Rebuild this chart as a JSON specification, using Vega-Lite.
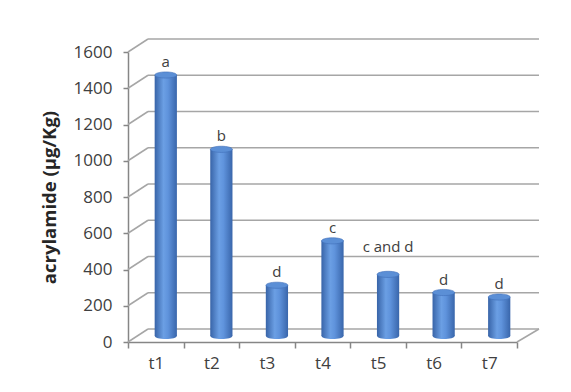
{
  "$schema": "https://vega.github.io/schema/vega-lite/v6.json",
  "autosize": "none",
  "padding": {"left": 128, "top": 52, "right": 54, "bottom": 50},
  "width": 389,
  "height": 290,
  "background": "white",
  "config": {
    "view": {"stroke": null},
    "font": "Open Sans",
    "axis": {"labelFont": "Open Sans", "titleFont": "Open Sans", "labelOverlap": false},
    "axisY": {
      "labelOverlap": false, "tickCount": 9, "labelSeparation": 0,
      "titleFontSize": 18.5, "titleFontWeight": "bold", "titleColor": "#262626", "titlePadding": 14,
      "labelFontSize": 17, "labelColor": "#404040", "labelPadding": 11, "tickSize": 5,
      "tickColor": "#868686", "domainColor": "#868686", "domainWidth": 1.5, "tickWidth": 1.5, "grid": false
    }
  },
  "datasets": {
    "bars": [
      {"t": "t1", "acrylamide": 1440, "group": "a"},
      {"t": "t2", "acrylamide": 1030, "group": "b"},
      {"t": "t3", "acrylamide": 280, "group": "d"},
      {"t": "t4", "acrylamide": 525, "group": "c"},
      {"t": "t5", "acrylamide": 340, "group": "c and d"},
      {"t": "t6", "acrylamide": 240, "group": "d"},
      {"t": "t7", "acrylamide": 215, "group": "d"}
    ],
    "grid": [
      {"acrylamide": 0}, {"acrylamide": 200}, {"acrylamide": 400}, {"acrylamide": 600}, {"acrylamide": 800},
      {"acrylamide": 1000}, {"acrylamide": 1200}, {"acrylamide": 1400}, {"acrylamide": 1600}
    ]
  },
  "layer": [
    {
      "data": {"name": "grid"},
      "mark": {"type": "rule", "color": "#a6a6a6", "strokeWidth": 1.5, "xOffset": 20, "x2Offset": 22, "yOffset": -13, "clip": false},
      "encoding": {
        "x": {"datum": "t1", "bandPosition": 0, "type": "nominal",
          "scale": {"paddingInner": 0, "paddingOuter": 0, "domain": ["t1", "t2", "t3", "t4", "t5", "t6", "t7"]},
          "axis": {
            "title": null, "labelAngle": 0, "labelFontSize": 17, "labelColor": "#404040",
            "labelPadding": 7, "tickBand": "extent", "tickSize": 6, "tickColor": "#868686",
            "domainColor": "#868686", "domainWidth": 1.5, "tickWidth": 1.5
          }
        },
        "x2": {"datum": "t7", "bandPosition": 1},
        "y": {
          "field": "acrylamide", "type": "quantitative",
          "scale": {"domain": [0, 1600]},
          "axis": {
            "title": "acrylamide (µg/Kg)", "values": [0, 200, 400, 600, 800, 1000, 1200, 1400, 1600],
            "format": "d", "labelOverlap": false
          }
        }
      }
    },
    {
      "data": {"name": "grid"},
      "mark": {"type": "rule", "color": "#a6a6a6", "strokeWidth": 1.5, "x2Offset": 20, "y2Offset": -13, "clip": false},
      "encoding": {
        "x": {"datum": "t1", "bandPosition": 0},
        "x2": {"datum": "t1", "bandPosition": 0},
        "y": {"field": "acrylamide", "type": "quantitative"},
        "y2": {"field": "acrylamide"}
      }
    },
    {
      "data": {"name": "bars"},
      "transform": [{"filter": "datum.t === 't7'"}],
      "mark": {"type": "rule", "color": "#a6a6a6", "strokeWidth": 1.5, "x2Offset": 22, "y2Offset": -13, "clip": false},
      "encoding": {
        "x": {"datum": "t7", "bandPosition": 1},
        "x2": {"datum": "t7", "bandPosition": 1},
        "y": {"datum": 0, "type": "quantitative"},
        "y2": {"datum": 0}
      }
    },
    {
      "data": {"name": "bars"},
      "mark": {
        "type": "point", "filled": true, "size": 484, "xOffset": 10, "yOffset": -6,
        "shape": "M -1 0 A 1 0.28 0 1 0 1 0 A 1 0.28 0 1 0 -1 0 Z",
        "fill": {
          "gradient": "linear", "x1": 0, "x2": 1, "y1": 0, "y2": 0,
          "stops": [
            {"offset": 0, "color": "#3864a8"},
            {"offset": 0.4, "color": "#6b9fe4"},
            {"offset": 0.6, "color": "#5f93dc"},
            {"offset": 1, "color": "#3966ab"}
          ]
        },
        "opacity": 1
      },
      "encoding": {
        "x": {"field": "t", "type": "nominal", "sort": null},
        "y": {"datum": 0, "type": "quantitative"}
      }
    },
    {
      "data": {"name": "bars"},
      "mark": {
        "type": "bar",
        "width": {"band": 0.4},
        "xOffset": 10,
        "yOffset": -6,
        "y2Offset": -6,
        "fill": {
          "gradient": "linear", "x1": 0, "x2": 1, "y1": 0, "y2": 0,
          "stops": [
            {"offset": 0, "color": "#3864a8"},
            {"offset": 0.4, "color": "#6b9fe4"},
            {"offset": 0.6, "color": "#5f93dc"},
            {"offset": 1, "color": "#3966ab"}
          ]
        }
      },
      "encoding": {
        "x": {"field": "t", "type": "nominal", "sort": null},
        "y": {"field": "acrylamide", "type": "quantitative"}
      }
    },
    {
      "data": {"name": "bars"},
      "mark": {
        "type": "point", "filled": true, "size": 484, "xOffset": 10, "yOffset": -6,
        "shape": "M -1 0 A 1 0.28 0 1 0 1 0 A 1 0.28 0 1 0 -1 0 Z",
        "fill": "#5b8fd6", "stroke": "#3f6fb8", "strokeWidth": 0.6, "opacity": 1
      },
      "encoding": {
        "x": {"field": "t", "type": "nominal", "sort": null},
        "y": {"field": "acrylamide", "type": "quantitative"}
      }
    },
    {
      "data": {"name": "bars"},
      "transform": [{"filter": "datum.t !== 't5'"}],
      "mark": {"type": "text", "fontSize": 15, "color": "#404040", "baseline": "bottom", "xOffset": 10, "yOffset": -6, "dy": -5},
      "encoding": {
        "x": {"field": "t", "type": "nominal", "sort": null},
        "y": {"field": "acrylamide", "type": "quantitative"},
        "text": {"field": "group"}
      }
    },
    {
      "data": {"name": "bars"},
      "transform": [{"filter": "datum.t === 't5'"}],
      "mark": {"type": "text", "fontSize": 15, "color": "#404040", "baseline": "bottom", "xOffset": 10, "yOffset": -6, "dy": -19},
      "encoding": {
        "x": {"field": "t", "type": "nominal", "sort": null},
        "y": {"field": "acrylamide", "type": "quantitative"},
        "text": {"field": "group"}
      }
    }
  ]
}
